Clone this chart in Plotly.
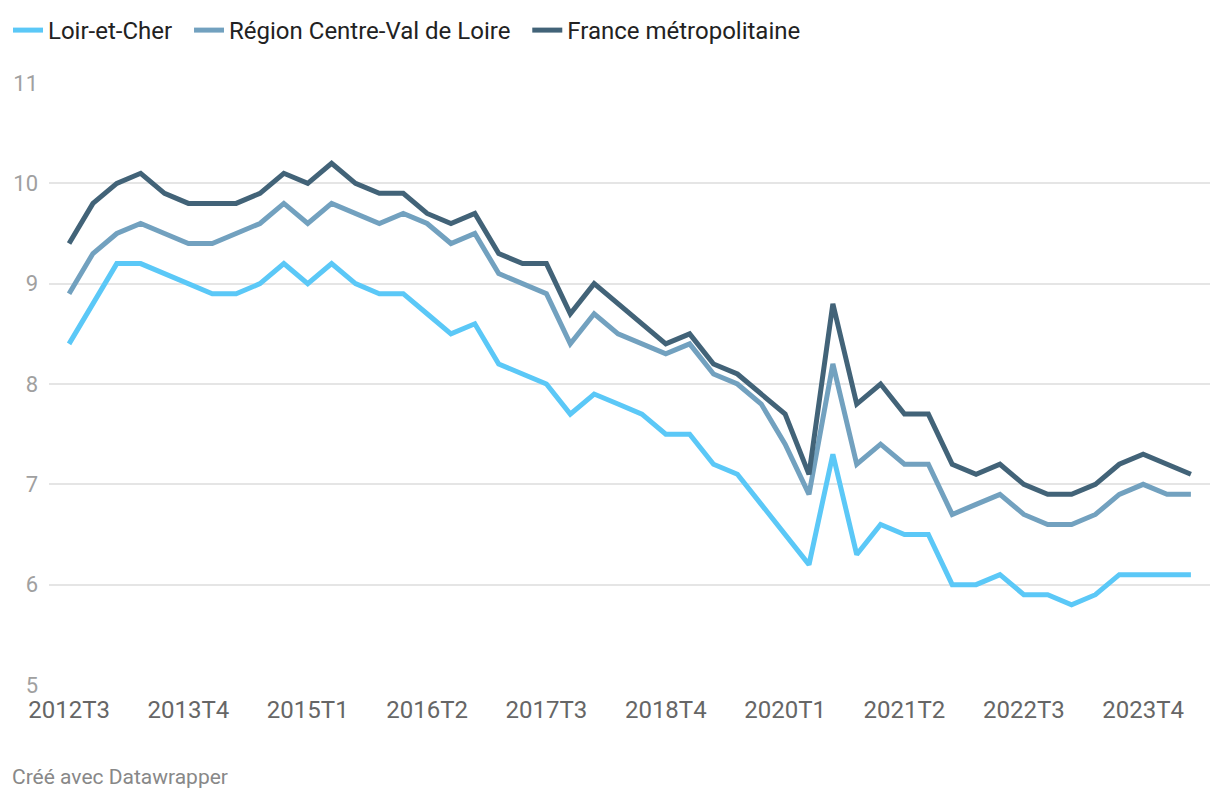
import plotly.graph_objects as go

quarters = [
    "2012T3", "2012T4",
    "2013T1", "2013T2", "2013T3", "2013T4",
    "2014T1", "2014T2", "2014T3", "2014T4",
    "2015T1", "2015T2", "2015T3", "2015T4",
    "2016T1", "2016T2", "2016T3", "2016T4",
    "2017T1", "2017T2", "2017T3", "2017T4",
    "2018T1", "2018T2", "2018T3", "2018T4",
    "2019T1", "2019T2", "2019T3", "2019T4",
    "2020T1", "2020T2", "2020T3", "2020T4",
    "2021T1", "2021T2", "2021T3", "2021T4",
    "2022T1", "2022T2", "2022T3", "2022T4",
    "2023T1", "2023T2", "2023T3", "2023T4",
    "2024T1", "2024T2",
]

loir_et_cher = [
    8.4, 8.8, 9.2, 9.2, 9.1, 9.0, 8.9, 8.9, 9.0, 9.2, 9.0, 9.2, 9.0, 8.9, 8.9,
    8.7, 8.5, 8.6, 8.2, 8.1, 8.0, 7.7, 7.9, 7.8, 7.7, 7.5, 7.5, 7.2, 7.1, 6.8,
    6.5, 6.2, 7.3, 6.3, 6.6, 6.5, 6.5, 6.0, 6.0, 6.1, 5.9, 5.9, 5.8, 5.9, 6.1,
    6.1, 6.1, 6.1,
]
region_cvl = [
    8.9, 9.3, 9.5, 9.6, 9.5, 9.4, 9.4, 9.5, 9.6, 9.8, 9.6, 9.8, 9.7, 9.6, 9.7,
    9.6, 9.4, 9.5, 9.1, 9.0, 8.9, 8.4, 8.7, 8.5, 8.4, 8.3, 8.4, 8.1, 8.0, 7.8,
    7.4, 6.9, 8.2, 7.2, 7.4, 7.2, 7.2, 6.7, 6.8, 6.9, 6.7, 6.6, 6.6, 6.7, 6.9,
    7.0, 6.9, 6.9,
]
france_metro = [
    9.4, 9.8, 10.0, 10.1, 9.9, 9.8, 9.8, 9.8, 9.9, 10.1, 10.0, 10.2, 10.0, 9.9, 9.9,
    9.7, 9.6, 9.7, 9.3, 9.2, 9.2, 8.7, 9.0, 8.8, 8.6, 8.4, 8.5, 8.2, 8.1, 7.9,
    7.7, 7.1, 8.8, 7.8, 8.0, 7.7, 7.7, 7.2, 7.1, 7.2, 7.0, 6.9, 6.9, 7.0, 7.2,
    7.3, 7.2, 7.1,
]

series_names = ["Loir-et-Cher", "Région Centre-Val de Loire", "France métropolitaine"]
series_values = [loir_et_cher, region_cvl, france_metro]
series_colors = ["#5bc8f7", "#72a1bf", "#426378"]

x_tick_labels = ["2012T3", "2013T4", "2015T1", "2016T2", "2017T3",
                 "2018T4", "2020T1", "2021T2", "2022T3", "2023T4"]
y_ticks = [5, 6, 7, 8, 9, 10, 11]

fig = go.Figure()
for i, (name, vals, col) in enumerate(zip(series_names, series_values, series_colors)):
    label = name if i == len(series_names) - 1 else name + "\u00a0\u00a0"
    fig.add_trace(go.Scatter(
        x=quarters, y=vals, name=label, mode="lines",
        line=dict(color=col, width=5, shape="linear"),
        hovertemplate="%{x}: %{y}<extra>" + name + "</extra>",
    ))

# the page body has an 8px margin, so the figure is drawn 8px in from the window edge
W, H = 1212, 792
ml, mr, mt, mb = 41, 10, 75, 115
pw = W - ml - mr
ph = H - mt - mb

fig.update_layout(
    width=W, height=H,
    margin=dict(l=ml, r=mr, t=mt, b=mb, autoexpand=False),
    paper_bgcolor="white", plot_bgcolor="white",
    font=dict(family="Roboto", size=22, color="#333333"),
    showlegend=True,
    legend=dict(
        orientation="h", xref="container", yref="container",
        x=0.0, y=1.0, xanchor="left", yanchor="top",
        font=dict(family="Roboto", size=24, color="#222222"),
        bgcolor="rgba(0,0,0,0)", itemwidth=30, tracegroupgap=0,
    ),
    xaxis=dict(
        type="category",
        range=[-0.84, 47.8],
        tickmode="array", tickvals=x_tick_labels, ticktext=x_tick_labels,
        showgrid=False, zeroline=False, showline=False,
        ticks="", ticklabelstandoff=8, automargin=False,
        tickfont=dict(family="Roboto", size=24, color="#666666"),
        fixedrange=True,
    ),
    yaxis=dict(
        range=[5, 11],
        tickmode="array", tickvals=y_ticks,
        showgrid=True, gridcolor="#e5e5e5", gridwidth=1.5,
        zeroline=False, showline=False, ticks="",
        ticklabelstandoff=10, automargin=False,
        tickfont=dict(family="Roboto", size=22, color="#a0a0a0"),
        fixedrange=True,
    ),
    annotations=[dict(
        text="Créé avec Datawrapper", showarrow=False,
        xref="paper", yref="paper",
        x=(2 - ml) / pw, y=(H - mb - 769) / ph,
        xanchor="left", yanchor="middle",
        font=dict(family="Roboto", size=21, color="#888888"),
    )],
)

fig.write_html("out.html")
